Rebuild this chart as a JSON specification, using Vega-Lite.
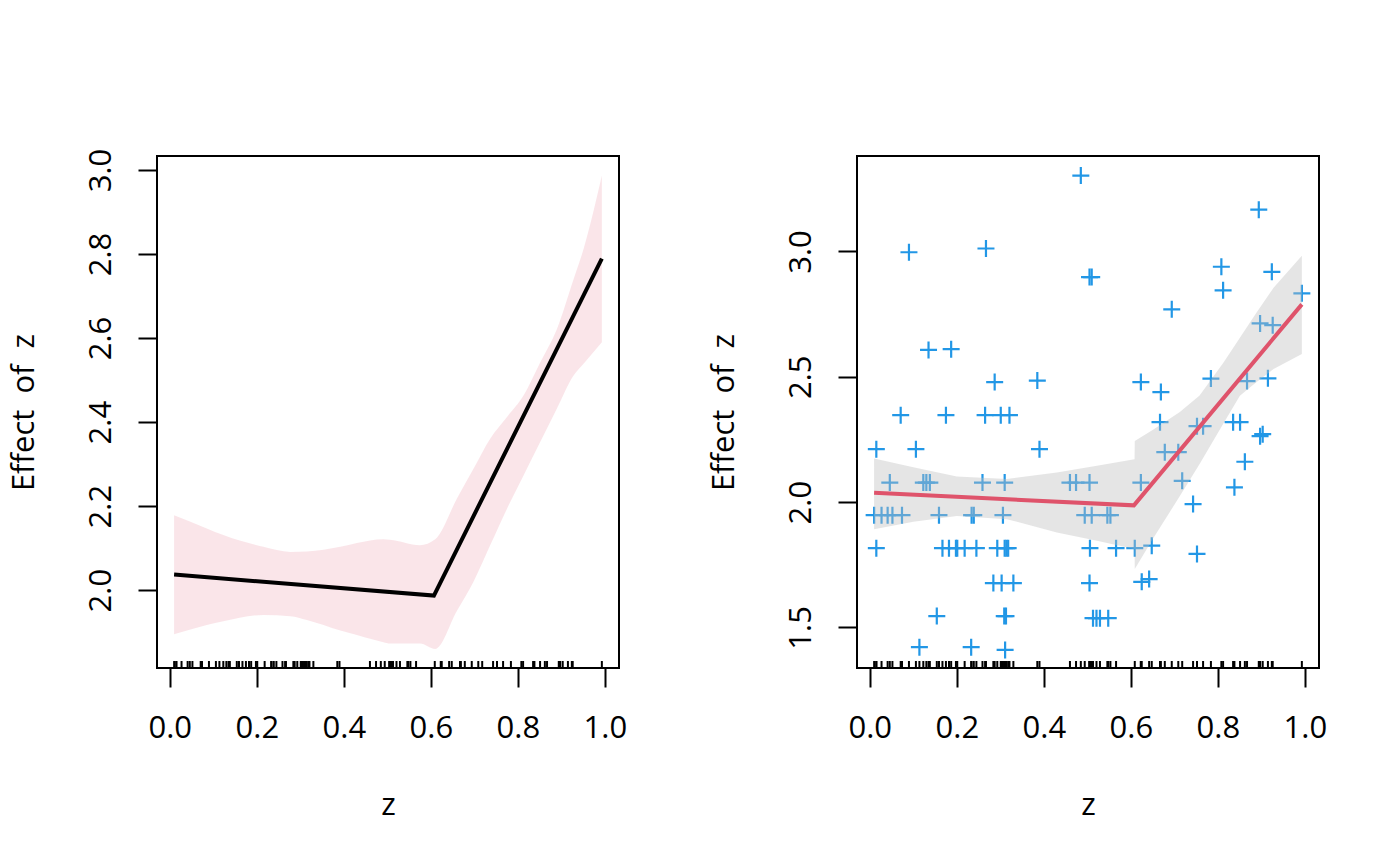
{
  "$schema": "https://vega.github.io/schema/vega-lite/v6.json",
  "autosize": {"type": "none"},
  "padding": {"left": 157, "top": 156, "right": 1243, "bottom": 710},
  "background": "white",
  "bounds": "flush",
  "spacing": 238,
  "config": {
    "font": "Open Sans",
    "view": {"stroke": "black", "strokeWidth": 2},
    "axis": {
      "grid": false, "domain": false, "tickColor": "black", "tickWidth": 2, "tickSize": 19,
      "labelFont": "Open Sans", "labelFontSize": 31, "labelColor": "black", "labelFlush": false, "labelOverlap": false,
      "titleFont": "Open Sans", "titleFontSize": 31, "titleFontWeight": "normal", "titleColor": "black"
    },
    "axisX": {"labelBaseline": "alphabetic", "labelPadding": 50, "titleBaseline": "alphabetic", "titleY": 146},
    "axisY": {"labelAngle": -90, "labelAlign": "center", "labelBaseline": "alphabetic", "labelPadding": 28,
      "titleBaseline": "alphabetic", "titleAngle": -90, "titleAlign": "center", "titleX": -124, "titleY": 256}
  },
  "datasets": {
    "pts": [
      {"z": 0.485, "y": 3.303}, {"z": 0.894, "y": 3.167}, {"z": 0.090, "y": 2.997}, {"z": 0.267, "y": 3.012},
      {"z": 0.505, "y": 2.898}, {"z": 0.510, "y": 2.898}, {"z": 0.808, "y": 2.939}, {"z": 0.924, "y": 2.919},
      {"z": 0.812, "y": 2.845}, {"z": 0.993, "y": 2.833}, {"z": 0.694, "y": 2.769}, {"z": 0.897, "y": 2.713},
      {"z": 0.926, "y": 2.706}, {"z": 0.135, "y": 2.607}, {"z": 0.187, "y": 2.610}, {"z": 0.287, "y": 2.479},
      {"z": 0.385, "y": 2.485}, {"z": 0.623, "y": 2.479}, {"z": 0.669, "y": 2.439}, {"z": 0.784, "y": 2.493},
      {"z": 0.867, "y": 2.483}, {"z": 0.915, "y": 2.494}, {"z": 0.071, "y": 2.347}, {"z": 0.175, "y": 2.347},
      {"z": 0.265, "y": 2.347}, {"z": 0.301, "y": 2.347}, {"z": 0.321, "y": 2.347}, {"z": 0.667, "y": 2.319},
      {"z": 0.835, "y": 2.319}, {"z": 0.851, "y": 2.319}, {"z": 0.752, "y": 2.303}, {"z": 0.766, "y": 2.303},
      {"z": 0.897, "y": 2.263}, {"z": 0.903, "y": 2.271}, {"z": 0.015, "y": 2.211}, {"z": 0.106, "y": 2.211},
      {"z": 0.390, "y": 2.211}, {"z": 0.678, "y": 2.199}, {"z": 0.709, "y": 2.199}, {"z": 0.862, "y": 2.161},
      {"z": 0.046, "y": 2.078}, {"z": 0.123, "y": 2.078}, {"z": 0.130, "y": 2.078}, {"z": 0.138, "y": 2.078},
      {"z": 0.259, "y": 2.078}, {"z": 0.310, "y": 2.078}, {"z": 0.460, "y": 2.078}, {"z": 0.474, "y": 2.078},
      {"z": 0.505, "y": 2.078}, {"z": 0.623, "y": 2.078}, {"z": 0.718, "y": 2.085}, {"z": 0.838, "y": 2.059},
      {"z": 0.743, "y": 1.992}, {"z": 0.010, "y": 1.948}, {"z": 0.027, "y": 1.948}, {"z": 0.041, "y": 1.948},
      {"z": 0.052, "y": 1.948}, {"z": 0.074, "y": 1.948}, {"z": 0.159, "y": 1.948}, {"z": 0.234, "y": 1.948},
      {"z": 0.239, "y": 1.948}, {"z": 0.306, "y": 1.948}, {"z": 0.494, "y": 1.948}, {"z": 0.510, "y": 1.948},
      {"z": 0.546, "y": 1.948}, {"z": 0.553, "y": 1.948}, {"z": 0.015, "y": 1.816}, {"z": 0.167, "y": 1.816},
      {"z": 0.182, "y": 1.816}, {"z": 0.198, "y": 1.816}, {"z": 0.201, "y": 1.816}, {"z": 0.218, "y": 1.816},
      {"z": 0.245, "y": 1.816}, {"z": 0.293, "y": 1.816}, {"z": 0.310, "y": 1.816}, {"z": 0.314, "y": 1.816},
      {"z": 0.318, "y": 1.816}, {"z": 0.506, "y": 1.816}, {"z": 0.566, "y": 1.816}, {"z": 0.609, "y": 1.816},
      {"z": 0.648, "y": 1.826}, {"z": 0.752, "y": 1.793}, {"z": 0.284, "y": 1.677}, {"z": 0.303, "y": 1.677},
      {"z": 0.330, "y": 1.677}, {"z": 0.505, "y": 1.677}, {"z": 0.625, "y": 1.682}, {"z": 0.642, "y": 1.693},
      {"z": 0.154, "y": 1.545}, {"z": 0.309, "y": 1.545}, {"z": 0.313, "y": 1.545}, {"z": 0.513, "y": 1.537},
      {"z": 0.521, "y": 1.537}, {"z": 0.529, "y": 1.537}, {"z": 0.548, "y": 1.537}, {"z": 0.114, "y": 1.421},
      {"z": 0.233, "y": 1.421}, {"z": 0.311, "y": 1.410}
    ],
    "fit": [
      {"z": 0.0099, "fit": 2.037}, {"z": 0.607, "fit": 1.987}, {"z": 0.993, "fit": 2.789}
    ],
    "bandL": [
      {"z": 0.0099, "lo": 1.895, "hi": 2.178}, {"z": 0.085, "lo": 1.917, "hi": 2.147},
      {"z": 0.123, "lo": 1.926, "hi": 2.131}, {"z": 0.215, "lo": 1.941, "hi": 2.103},
      {"z": 0.277, "lo": 1.938, "hi": 2.091}, {"z": 0.315, "lo": 1.929, "hi": 2.092},
      {"z": 0.392, "lo": 1.904, "hi": 2.103}, {"z": 0.43, "lo": 1.893, "hi": 2.112},
      {"z": 0.491, "lo": 1.876, "hi": 2.121}, {"z": 0.506, "lo": 1.873, "hi": 2.120},
      {"z": 0.575, "lo": 1.873, "hi": 2.107}, {"z": 0.61, "lo": 1.860, "hi": 2.121},
      {"z": 0.66, "lo": 1.951, "hi": 2.218}, {"z": 0.698, "lo": 2.020, "hi": 2.289},
      {"z": 0.736, "lo": 2.106, "hi": 2.360}, {"z": 0.775, "lo": 2.194, "hi": 2.412},
      {"z": 0.813, "lo": 2.273, "hi": 2.463}, {"z": 0.851, "lo": 2.352, "hi": 2.541},
      {"z": 0.89, "lo": 2.433, "hi": 2.622}, {"z": 0.928, "lo": 2.511, "hi": 2.740},
      {"z": 0.951, "lo": 2.539, "hi": 2.812}, {"z": 0.993, "lo": 2.590, "hi": 2.987}
    ],
    "bandR": [
      {"z": 0.0099, "lo": 1.892, "hi": 2.174}, {"z": 0.1, "lo": 1.922, "hi": 2.139},
      {"z": 0.2, "lo": 1.945, "hi": 2.102}, {"z": 0.315, "lo": 1.932, "hi": 2.092},
      {"z": 0.43, "lo": 1.879, "hi": 2.118}, {"z": 0.522, "lo": 1.846, "hi": 2.145},
      {"z": 0.6085, "lo": 1.813, "hi": 2.171}, {"z": 0.609, "lo": 1.733, "hi": 2.244},
      {"z": 0.65, "lo": 1.852, "hi": 2.288}, {"z": 0.7126, "lo": 2.024, "hi": 2.360},
      {"z": 0.758, "lo": 2.152, "hi": 2.425}, {"z": 0.813, "lo": 2.315, "hi": 2.557},
      {"z": 0.8506, "lo": 2.424, "hi": 2.656}, {"z": 0.889, "lo": 2.479, "hi": 2.757},
      {"z": 0.928, "lo": 2.531, "hi": 2.855}, {"z": 0.993, "lo": 2.591, "hi": 2.983}
    ]
  },
  "hconcat": [
    {
      "width": 462,
      "height": 512,
      "encoding": {
        "x": {
          "field": "z", "type": "quantitative", "title": "z",
          "scale": {"domain": [-0.0294, 1.0324], "nice": false, "zero": false},
          "axis": {"values": [0, 0.2, 0.4, 0.6, 0.8, 1.0], "format": ".1f"}
        }
      },
      "layer": [
        {
          "data": {"name": "bandL"},
          "mark": {"type": "area", "color": "#DF536B", "opacity": 0.15, "interpolate": "monotone"},
          "encoding": {
            "y": {
              "field": "lo", "type": "quantitative", "title": "Effect\u00a0 of\u00a0 z",
              "scale": {"domain": [1.8147, 3.0333], "nice": false, "zero": false},
              "axis": {"values": [2.0, 2.2, 2.4, 2.6, 2.8, 3.0], "format": ".1f"}
            },
            "y2": {"field": "hi"}
          }
        },
        {
          "data": {"name": "fit"},
          "mark": {"type": "line", "color": "black", "strokeWidth": 4},
          "encoding": {"y": {"field": "fit", "type": "quantitative", "title": "Effect\u00a0 of\u00a0 z"}}
        },
        {
          "data": {"name": "pts"},
          "mark": {"type": "rule", "color": "black", "strokeWidth": 2},
          "encoding": {"y": {"datum": 1.8147, "title": "Effect\u00a0 of\u00a0 z"}, "y2": {"datum": 1.8313}}
        }
      ]
    },
    {
      "width": 462,
      "height": 512,
      "encoding": {
        "x": {
          "field": "z", "type": "quantitative", "title": "z",
          "scale": {"domain": [-0.0294, 1.0324], "nice": false, "zero": false},
          "axis": {"values": [0, 0.2, 0.4, 0.6, 0.8, 1.0], "format": ".1f"}
        }
      },
      "layer": [
        {
          "data": {"name": "pts"},
          "mark": {"type": "point", "shape": "M-1,0H1M0,-1V1", "filled": false, "stroke": "#2297E6", "strokeWidth": 2.2, "size": 289, "opacity": 1},
          "encoding": {
            "y": {
              "field": "y", "type": "quantitative", "title": "Effect\u00a0 of\u00a0 z",
              "scale": {"domain": [1.338, 3.381], "nice": false, "zero": false},
              "axis": {"values": [1.5, 2.0, 2.5, 3.0], "format": ".1f"}
            }
          }
        },
        {
          "data": {"name": "bandR"},
          "mark": {"type": "area", "color": "#BEBEBE", "opacity": 0.4},
          "encoding": {
            "y": {"field": "lo", "type": "quantitative", "title": "Effect\u00a0 of\u00a0 z"},
            "y2": {"field": "hi"}
          }
        },
        {
          "data": {"name": "fit"},
          "mark": {"type": "line", "color": "#DF536B", "strokeWidth": 4},
          "encoding": {"y": {"field": "fit", "type": "quantitative", "title": "Effect\u00a0 of\u00a0 z"}}
        },
        {
          "data": {"name": "pts"},
          "mark": {"type": "rule", "color": "black", "strokeWidth": 2},
          "encoding": {"y": {"datum": 1.338, "title": "Effect\u00a0 of\u00a0 z"}, "y2": {"datum": 1.366}}
        }
      ]
    }
  ]
}
